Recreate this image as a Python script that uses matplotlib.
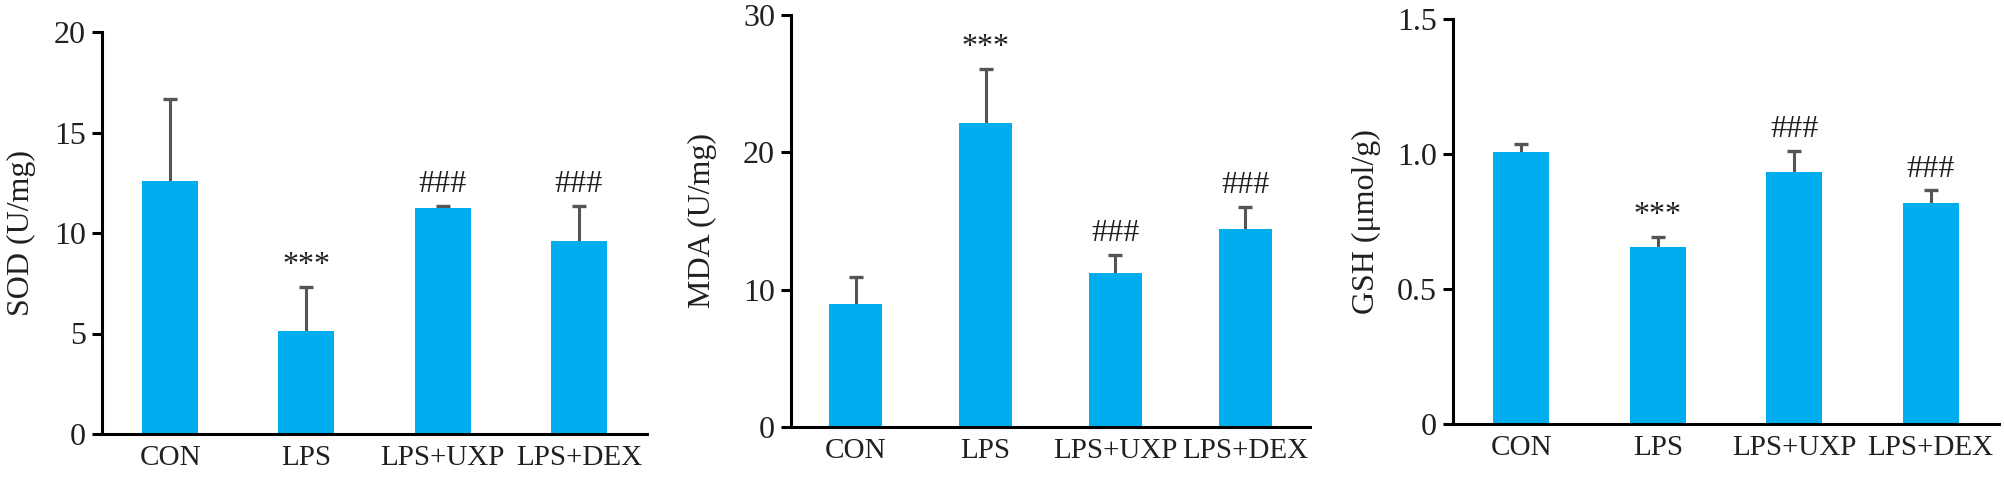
import matplotlib
matplotlib.use("Agg")
import matplotlib.pyplot as plt

plt.rcParams['font.family'] = ['Liberation Serif', 'DejaVu Serif']

groups = ["CON", "LPS", "LPS+UXP", "LPS+DEX"]

sod_mean = [12.6, 5.1, 11.25, 9.6]
sod_err = [4.07, 2.2, 0.1, 1.75]
sod_sig = ["", "***", "###", "###"]

mda_mean = [8.95, 22.1, 11.2, 14.4]
mda_err = [1.95, 4.0, 1.3, 1.6]
mda_sig = ["", "***", "###", "###"]

gsh_mean = [1.006, 0.657, 0.932, 0.817]
gsh_err = [0.03, 0.037, 0.078, 0.048]
gsh_sig = ["", "***", "###", "###"]

sod_ticks = [0, 5, 10, 15, 20]
sod_ticklabels = ["0", "5", "10", "15", "20"]
mda_ticks = [0, 10, 20, 30]
mda_ticklabels = ["0", "10", "20", "30"]
gsh_ticks = [0, 0.5, 1.0, 1.5]
gsh_ticklabels = ["0", "0.5", "1.0", "1.5"]

bar_color = "#00AEEF"
err_color = "#555555"
text_color = "#231f20"

W, H = 2004, 478
fig = plt.figure(figsize=(W / 100, H / 100), dpi=100)

# axes boxes in pixels: left, right, zero line, top tick
boxes = [(102, 647, 434, 32), (791, 1310, 427, 15), (1453, 1999, 424, 19)]
label_x = [21, 702, 1366]

panels = [
    (sod_mean, sod_err, sod_sig, sod_ticks, sod_ticklabels, "SOD (U/mg)"),
    (mda_mean, mda_err, mda_sig, mda_ticks, mda_ticklabels, "MDA (U/mg)"),
    (gsh_mean, gsh_err, gsh_sig, gsh_ticks, gsh_ticklabels, "GSH (\u03bcmol/g)"),
]

for (mean, err, sig, ticks, ticklabels, ylab), (l, r, b, t), lx in zip(panels, boxes, label_x):
    ax = fig.add_axes([l / W, 1 - b / H, (r - l) / W, (b - t) / H])
    x = list(range(len(groups)))
    # symmetric bars drawn behind the columns, so only the upper half shows
    ax.errorbar(x, mean, yerr=err, fmt="none", ecolor=err_color,
                elinewidth=2.2, capsize=5, capthick=2.4, zorder=1)
    ax.bar(x, mean, width=0.41, color=bar_color, zorder=2)
    for xi, m, e, s in zip(x, mean, err, sig):
        if s:
            ax.annotate(s, (xi, m + e), xytext=(0, 10), textcoords="offset points",
                        ha="center", va="baseline", fontsize=23, color=text_color)
    ax.set_xlim(-0.5, 3.5)
    ax.set_ylim(0, ticks[-1])
    ax.set_yticks(ticks)
    ax.set_yticklabels(ticklabels)
    ax.set_xticks(x)
    ax.set_xticklabels(groups)
    ax.spines["top"].set_visible(False)
    ax.spines["right"].set_visible(False)
    ax.spines["left"].set_linewidth(2.2)
    ax.spines["bottom"].set_linewidth(2.2)
    ax.tick_params(axis="y", direction="out", length=7.5, width=2.2, labelsize=23, pad=4)
    ax.tick_params(axis="x", length=0, labelsize=21, pad=8)
    for lab in ax.get_xticklabels() + ax.get_yticklabels():
        lab.set_color(text_color)
    fig.text(lx / W, 1 - (b + t) / 2 / H, ylab, rotation=90, ha="center", va="center",
             fontsize=23, color=text_color)

fig.savefig("out.png", dpi=100)
